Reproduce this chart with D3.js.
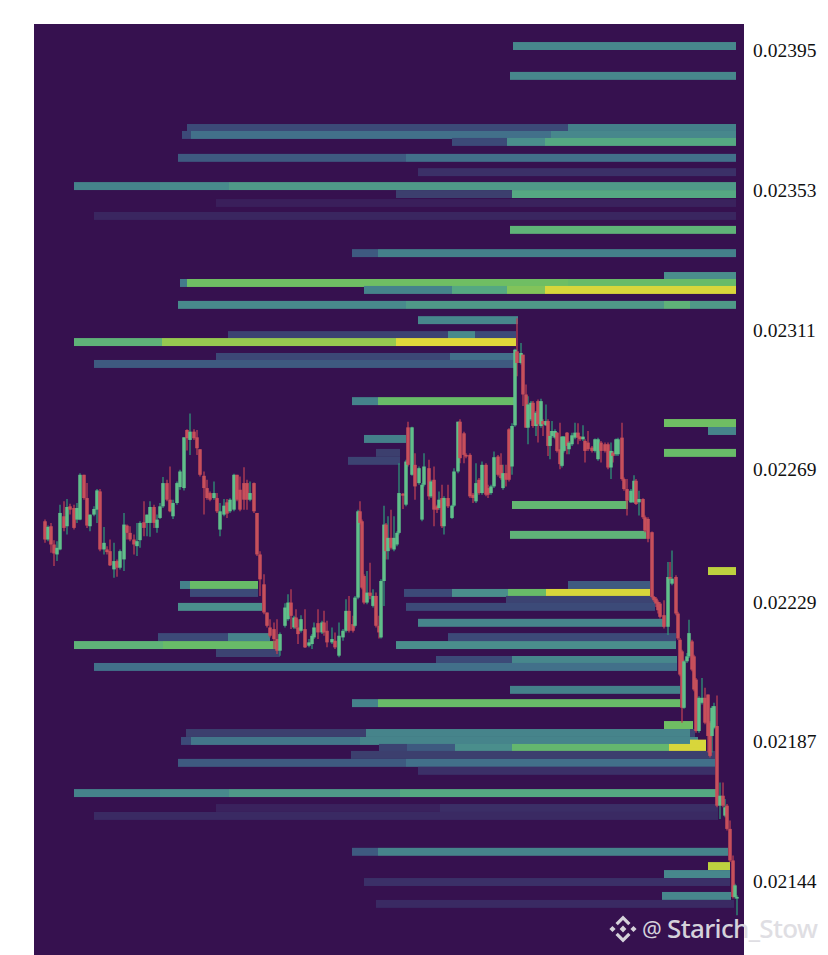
<!DOCTYPE html>
<html><head><meta charset="utf-8">
<script src="https://cdn.jsdelivr.net/npm/d3@7/dist/d3.min.js"></script>
<style>html,body{margin:0;padding:0;background:#fff;overflow:hidden}svg{display:block}</style>
</head><body><div id="chart"></div>
<script>
// Prices are in millionths (22650 = 0.02265); time is in minutes from the left of the window.
const tickPrices = [23950, 23527, 23106, 22686, 22286, 21866, 21445];
const heatStops = [0.05, 0.1, 0.15, 0.2, 0.25, 0.3, 0.35, 0.4, 0.45, 0.5, 0.55, 0.6, 0.65, 0.7, 0.75, 0.85, 1];
const heatColors = ["#3a1f5b","#3a2660","#3b3068","#3c3f6e","#3c4a78","#3e5a80","#42708a","#44808a","#47878c","#4a8e8c","#4f9988","#55a882","#5fb278","#68bb68","#74c060","#b8d040","#e0d83a"];

// [price, from, to, heat]
const levelsUpper = [
[23962,471,694,.45],[23872,468,694,.45],
[23715,145,526,.25],[23715,526,694,.4],
[23694,140,149,.25],[23694,149,509,.35],[23694,509,694,.45],
[23673,410,465,.25],[23673,465,503,.5],[23673,503,694,.6],
[23625,136,364,.3],[23625,364,694,.35],
[23582,376,694,.15],
[23540,32,118,.42],[23540,118,187,.47],[23540,187,694,.55],
[23516,354,470,.2],[23516,470,694,.6],
[23489,174,468,.05],[23489,468,694,.07],
[23450,52,694,.1],
[23408,468,694,.65],
[23338,310,336,.3],[23338,336,694,.4],
[23269,622,694,.5],
[23248,138,145,.38],[23248,145,526,.73],[23248,526,694,.7],
[23227,322,410,.42],[23227,410,465,.6],[23227,465,503,.77],[23227,503,694,.97],
[23182,136,364,.47],[23182,364,622,.55],[23182,622,648,.65],[23182,648,694,.55]
];
const levelsMiddle = [
[23136,376,476,.45],
[23091,186,406,.22],[23091,406,433,.47],[23091,433,474,.25],
[23070,32,120,.65],[23070,120,354,.8],[23070,354,474,1],
[23025,174,408,.24],[23025,408,474,.35],
[23004,52,474,.3],
[22892,310,336,.42],[22892,336,474,.7],
[22826,622,694,.73],[22802,666,694,.43],
[22778,322,364,.4],
[22736,622,694,.7],[22736,334,358,.2],
[22712,306,358,.22],
[22579,470,586,.67],[22489,468,604,.65],[22380,666,694,.87],
[22338,138,148,.4],[22338,148,216,.7],[22338,526,608,.3],
[22314,148,216,.25],[22314,362,410,.25],[22314,410,466,.5],[22314,466,504,.7],[22314,504,608,.97],
[22293,464,613,.22],
[22272,136,220,.5],[22272,364,613,.25]
];
const levelsLower = [
[22224,376,623,.43],
[22181,116,186,.25],[22181,186,228,.43],[22181,406,634,.25],
[22157,32,121,.65],[22157,121,236,.7],[22157,354,634,.5],
[22133,174,238,.22],
[22112,394,470,.25],[22112,470,635,.45],
[22091,52,635,.35],
[22022,468,638,.4],
[21982,310,336,.42],[21982,336,638,.7],
[21916,622,651,.73],
[21892,144,324,.2],[21892,324,648,.43],[21892,648,653,.22],
[21868,139,149,.25],[21868,149,318,.37],[21868,318,656,.43],
[21847,337,365,.22],[21847,365,413,.3],[21847,413,470,.5],[21847,470,627,.68],[21847,627,664,.97],
[21860,648,664,.97],
[21826,309,673,.2],
[21802,136,364,.3],[21802,364,673,.35],
[21778,376,673,.15],
[21711,32,118,.42],[21711,118,187,.47],[21711,187,358,.55],[21711,358,674,.6],
[21666,174,398,.07],[21666,398,676,.14],
[21642,52,676,.12],
[21534,310,336,.3],[21534,336,686,.43],
[21491,666,688,.87],[21467,622,688,.45],[21443,322,688,.15],
[21401,620,689,.45],[21377,334,692,.12]
];

// [time, open, close, high, low]
const candlesA = [
[3,22530,22475,22535,22465],[6,22475,22513,22517,22470],[9,22515,22460,22525,22435],[12,22460,22433,22473,22395],
[15,22430,22450,22470,22410],[18,22445,22555,22580,22443],[22,22545,22510,22590,22500],[25,22515,22573,22597,22490],
[28,22575,22565,22583,22550],[32,22570,22510,22580,22505],[35,22535,22570,22585,22525],[38,22535,22670,22675,22533],
[42,22670,22600,22670,22595],[45,22600,22517,22645,22510],[48,22515,22550,22550,22500],[52,22550,22567,22575,22545],
[55,22565,22623,22627,22525],[58,22620,22445,22627,22440],[62,22445,22465,22513,22430],[65,22445,22437,22455,22430],
[68,22440,22397,22475,22395],[72,22385,22410,22465,22360],[75,22410,22390,22415,22363],[78,22390,22440,22445,22385],
[82,22415,22520,22555,22380],[85,22517,22495,22520,22475],[88,22495,22475,22515,22470],[92,22475,22460,22490,22430],
[95,22455,22470,22525,22425],[98,22473,22525,22530,22450],[102,22527,22510,22590,22485],[105,22525,22550,22550,22485],
[108,22525,22573,22590,22483],[112,22573,22525,22580,22510],[115,22510,22535,22550,22495],[118,22540,22575,22585,22537],
[121,22575,22645,22663,22570],[125,22645,22595,22655,22590],[128,22595,22560,22695,22557],[131,22545,22585,22595,22537],
[135,22585,22645,22650,22580],[138,22633,22680,22685,22625],[142,22630,22783,22783,22623],[145,22805,22780,22807,22743],
[148,22775,22800,22855,22730],[152,22800,22780,22807,22775],[155,22783,22750,22805,22730],[158,22747,22670,22747,22665],
[162,22667,22630,22680,22550],[165,22630,22600,22655,22595],[168,22615,22595,22620,22590],[172,22600,22615,22650,22595],
[175,22600,22560,22615,22555],[178,22505,22560,22585,22485],[182,22550,22577,22597,22545],[185,22587,22553,22597,22540],
[188,22560,22595,22599,22555],[192,22565,22670,22673,22560],[195,22670,22595,22670,22590],[198,22625,22565,22665,22560],
[202,22645,22595,22693,22565],[205,22645,22595,22655,22565],[208,22595,22615,22650,22590],[212,22645,22560,22647,22555],
[215,22555,22430,22555,22425],[218,22430,22355,22440,22305],[222,22340,22255,22370,22250],[225,22255,22215,22255,22210],
[228,22210,22185,22235,22180],[232,22205,22175,22225,22145],[235,22175,22140,22235,22130],[238,22140,22190,22195,22125]
];
const candlesB = [
[243,22215,22270,22283,22210],[246,22235,22285,22310,22230],[249,22285,22245,22325,22205],[252,22210,22240,22245,22205],
[254,22240,22210,22265,22205],[256,22210,22190,22235,22160],[259,22200,22235,22247,22195],[263,22205,22150,22265,22148],
[267,22155,22165,22175,22150],[270,22160,22185,22190,22145],[272,22180,22210,22225,22175],[276,22223,22195,22265,22175],
[280,22195,22225,22230,22190],[282,22225,22195,22260,22185],[285,22200,22165,22230,22150],[290,22165,22175,22210,22160],
[293,22170,22150,22195,22145],[297,22125,22185,22225,22120],[301,22180,22200,22205,22170],[304,22200,22260,22295,22195],
[307,22260,22200,22305,22195],[311,22220,22200,22245,22195],[313,22215,22300,22305,22210],[316,22300,22560,22565,22295],
[318,22560,22525,22590,22520],[320,22530,22330,22535,22325],[322,22365,22285,22370,22280],[325,22285,22315,22380,22280],
[328,22315,22305,22405,22295],[331,22275,22305,22325,22270],[334,22305,22215,22315,22210],[337,22215,22195,22245,22177],
[339,22180,22350,22355,22177],[342,22350,22520,22577,22275],[344,22520,22440,22525,22415],[346,22440,22480,22545,22415],
[349,22480,22450,22565,22445],[352,22445,22480,22545,22440],[355,22460,22495,22500,22455],[357,22495,22615,22705,22490],
[361,22613,22607,22615,22567],[364,22580,22710,22715,22575],[366,22813,22700,22830,22695],[370,22670,22813,22815,22667],
[373,22700,22635,22735,22595],[377,22645,22690,22695,22640],[380,22535,22640,22645,22530],[382,22640,22695,22735,22635],
[387,22690,22605,22715,22595],[389,22605,22650,22655,22600],[392,22655,22565,22695,22515],[395,22575,22565,22580,22555],
[397,22570,22595,22620,22565],[400,22600,22515,22640,22510],[402,22515,22600,22605,22490],[406,22600,22575,22640,22570],
[410,22540,22577,22580,22537],[412,22577,22680,22690,22573],[416,22680,22830,22830,22675],[418,22830,22720,22837,22705],
[422,22795,22730,22800,22705],[424,22730,22725,22735,22720],[428,22730,22605,22735,22600],[431,22610,22600,22615,22585],
[434,22590,22645,22705,22585],[437,22655,22615,22660,22610],[440,22615,22700,22710,22610],[444,22700,22610,22705,22605],
[446,22630,22610,22640,22600],[449,22615,22635,22640,22610],[452,22635,22723,22740,22630],[456,22725,22670,22730,22665],
[459,22700,22660,22735,22655],[461,22630,22675,22700,22625],[464,22675,22655,22700,22635],[467,22807,22655,22810,22650],
[470,22695,22817,22825,22670]
];
const candlesC = [
[473,22819,23047,23050,22815],[475,23042,23007,23142,22967],[479,23007,23037,23067,23002],[481,23032,22912,23032,22877],
[484,22912,22812,22942,22812],[486,22812,22882,22907,22762],[489,22837,22887,22892,22832],[491,22887,22817,22892,22812],
[494,22817,22857,22862,22787],[496,22892,22822,22897,22767],[499,22817,22892,22899,22812],[501,22832,22822,22837,22787],
[504,22819,22832,22882,22817],[506,22832,22757,22837,22727],[508,22757,22787,22802,22717],[510,22787,22802,22832,22782],
[513,22782,22802,22807,22777],[515,22797,22742,22799,22737],[518,22747,22702,22827,22687],[520,22697,22785,22787,22692],
[522,22742,22785,22787,22737],[525,22797,22757,22799,22732],[527,22747,22767,22772,22732],[530,22762,22789,22797,22757],
[533,22782,22797,22827,22777],[536,22797,22782,22825,22762],[538,22785,22777,22787,22772],[541,22777,22785,22819,22772],
[543,22772,22742,22777,22707],[546,22767,22747,22802,22742],[550,22752,22742,22757,22737],[553,22742,22777,22779,22737],
[556,22717,22777,22782,22712],[559,22767,22742,22772,22707],[563,22762,22742,22767,22737],[566,22762,22692,22767,22687],
[569,22692,22742,22767,22657],[571,22737,22727,22742,22707],[574,22732,22777,22779,22727],[576,22732,22777,22782,22727],
[580,22782,22657,22827,22652],[582,22657,22627,22662,22622],[585,22627,22592,22657,22547],[589,22587,22622,22627,22585],
[592,22587,22652,22669,22585],[594,22652,22582,22657,22579],[597,22587,22597,22622,22547],[601,22597,22542,22599,22537],
[603,22542,22502,22547,22497],[606,22537,22477,22542,22467],[610,22497,22302,22499,22297],[612,22302,22292,22305,22287],
[614,22297,22282,22302,22272],[616,22287,22262,22292,22252],[618,22282,22242,22287,22237],[622,22247,22212,22292,22207],
[626,22212,22362,22407,22187],[628,22362,22357,22407,22352],[630,22342,22357,22442,22337],[634,22362,22252,22367,22247],
[636,22252,22177,22257,22172]
];
const candlesD = [
[638,22173,22068,22178,22063],[640,22138,21968,22143,21923],[642,21968,22108,22113,21965],[645,22108,22123,22133,22103],
[647,22123,22193,22233,22118],[650,22168,22083,22173,22078],[652,22123,22023,22128,22018],[654,22053,21898,22058,21893],
[657,21898,21998,22003,21893],[660,21983,21998,22058,21978],[663,21998,21923,22028,21918],[666,22008,21883,22008,21833],
[668,21923,21823,21928,21818],[670,21883,21968,21973,21833],[672,21908,21973,21983,21903],[675,21913,21673,22005,21668],
[678,21673,21703,21743,21633],[681,21703,21673,21743,21668],[683,21643,21668,21693,21638],[685,21673,21603,21678,21598],
[688,21603,21508,21628,21503],[691,21508,21398,21523,21393],[693,21398,21433,21438,21393],[695,21393,21398,21403,21343]
];

const W = 828, H = 955;
const plot = {left: 34, right: 744, top: 24, bottom: 955};
const levels = levelsUpper.concat(levelsMiddle, levelsLower);
const candles = candlesA.concat(candlesB, candlesC, candlesD);

const x = d3.scaleLinear().domain([0, 696]).range([42, 738]);
const y = d3.scaleLinear().domain([23950, 21440]).range([50, 883]);
const heat = d3.scaleLinear().domain(heatStops).range(heatColors);
const bandH = Math.abs(y(0) - y(24));

const svg = d3.select("#chart").append("svg").attr("width", W).attr("height", H);
svg.append("rect").attr("x", plot.left).attr("y", plot.top)
  .attr("width", plot.right - plot.left).attr("height", plot.bottom - plot.top).attr("fill", "#36114f");

svg.append("g").selectAll("rect").data(levels).join("rect")
  .attr("x", d => x(d[1])).attr("width", d => x(d[2]) - x(d[1]))
  .attr("y", d => y(d[0]) - bandH / 2).attr("height", bandH)
  .attr("fill", d => heat(d[3]));

const isUp = d => d[2] >= d[1];
const g = svg.append("g");
g.selectAll("line").data(candles).join("line")
  .attr("x1", d => x(d[0])).attr("x2", d => x(d[0]))
  .attr("y1", d => y(d[3])).attr("y2", d => y(d[4]))
  .attr("stroke", d => isUp(d) ? "#2f9478" : "#b83e54").attr("stroke-width", 1.3);
g.selectAll("rect").data(candles).join("rect")
  .attr("x", d => x(d[0]) - 1.75).attr("width", 3.5)
  .attr("y", d => y(Math.max(d[1], d[2])))
  .attr("height", d => Math.max(1.5, Math.abs(y(d[1]) - y(d[2]))))
  .attr("fill", d => isUp(d) ? "#60bf8a" : "#c74f5b");

const axis = d3.axisRight(y).tickValues(tickPrices).tickSize(0).tickPadding(0)
  .tickFormat(v => (v / 1e6).toFixed(5));
const ag = svg.append("g").attr("transform", "translate(753,0)").call(axis);
ag.select(".domain").remove();
ag.selectAll("text").attr("font-family", "'Liberation Serif', serif").attr("font-size", 19.5).attr("fill", "#111");

// watermark
const wm = svg.append("g").attr("fill", "#dedde2").attr("opacity", 0.95);
const logo = wm.append("g").attr("transform", "translate(623,929)");
[[-10.5,0,3.1],[10.5,0,3.1],[0,0,3.4]].forEach(p => {
  logo.append("path").attr("d", `M${p[0]},${p[1]-p[2]}L${p[0]+p[2]},${p[1]}L${p[0]},${p[1]+p[2]}L${p[0]-p[2]},${p[1]}Z`);
});
logo.append("path").attr("d","M-7.5,-6L0,-13.5L7.5,-6L5.2,-3.7L0,-8.9L-5.2,-3.7Z");
logo.append("path").attr("d","M-7.5,6L0,13.5L7.5,6L5.2,3.7L0,8.9L-5.2,3.7Z");
wm.append("text").attr("x", 642).attr("y", 937).attr("font-family", "'Noto Sans'").attr("font-size", 22).text("@");
wm.append("text").attr("x", 667).attr("y", 938).attr("font-family", "'Noto Sans'").attr("font-weight", 500).attr("font-size", 26)
  .attr("textLength", 151).attr("lengthAdjust", "spacing").text("Starich_Stow");
</script></body></html>
